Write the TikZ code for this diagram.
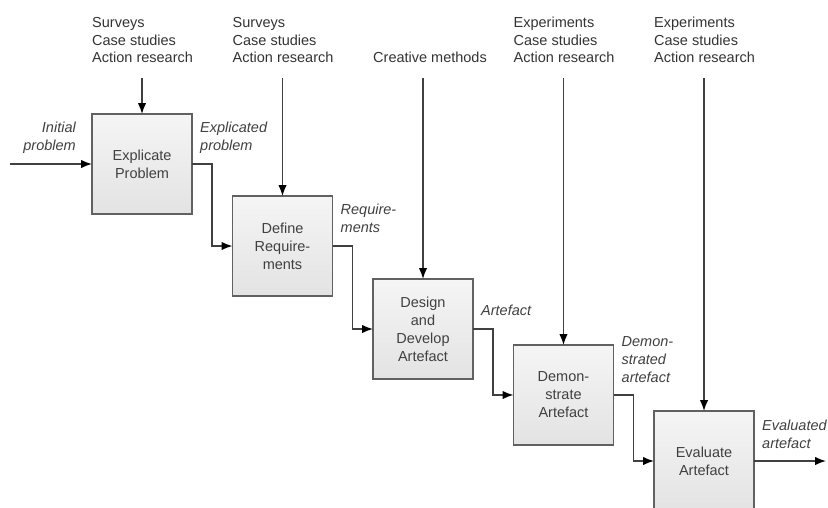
\documentclass[tikz,border=0pt]{standalone}
\usepackage{fontspec}
\setmainfont{Liberation Sans}
\usetikzlibrary{arrows.meta, positioning}

\begin{document}
\begin{tikzpicture}[x=1pt,y=-1pt,>={Latex[length=11pt,width=8.5pt,color=black]},
  font=\fontsize{14.5}{18}\selectfont,
  step node/.style={rectangle,draw=black!62,line width=1.6pt,top color=black!4,bottom color=black!11,
    minimum size=100pt,inner sep=2pt,outer sep=0pt,align=center,text=black!75},
  method node/.style={anchor=south west,inner sep=0pt,align=left,text=black!80,
    font=\fontsize{14.5}{17.5}\selectfont},
  label node/.style={inner sep=0pt,text depth=0pt,text=black!75,
    font=\fontsize{14.5}{18}\selectfont\itshape},
  flow/.style={->,draw=black!75,line width=1.5pt}]
  \useasboundingbox (0,0) rectangle (828,507);
  \clip (0,0) rectangle (828,507);
  \coordinate (top) at (0,78);

  % steps
  \node[step node] (1) at (142,164) {Explicate\\Problem};
  \node[step node] (2) [below right=-18pt and 40.5pt of 1] {Define\\Require-\\ments};
  \node[step node] (3) [below right=-17pt and 40.5pt of 2] {Design\\and\\Develop\\Artefact};
  \node[step node] (4) [below right=-34pt and 40.5pt of 3] {Demon-\\strate\\Artefact};
  \node[step node] (5) [below right=-34pt and 40.5pt of 4] {Evaluate\\Artefact};

  % methods
  \node[method node] (m1) at ([yshift=15pt]top -| 1.west) {Surveys\\Case studies\\Action research};
  \node[method node] (m2) at ([yshift=15pt]top -| 2.west) {Surveys\\Case studies\\Action research};
  \node[method node] (m3) at ([yshift=15pt]top -| 3.west) {Creative methods};
  \node[method node] (m4) at ([yshift=15pt]top -| 4.west) {Experiments\\Case studies\\Action research};
  \node[method node] (m5) at ([yshift=15pt]top -| 5.west) {Experiments\\Case studies\\Action research};
  \foreach \n in {1,...,5}
    \draw[flow] (top -| \n.north) -- (\n.north);

  % flow between steps
  \coordinate[left=82pt of 1.west] (in);
  \coordinate[right=72pt of 5.east] (out);
  \draw[flow] (in) -- (1.west);
  \foreach \a/\b in {1/2,2/3,3/4,4/5}
    \draw[flow] (\a.east) -- ++(20,0) |- (\b.west);
  \draw[flow] (5.east) -- (out);

  % flow labels
  \node[label node, align=right] (l0) [above left=13pt and 16pt of 1.west] {Initial\\problem};
  \node[label node, align=left] (l1) [above right=13pt and 8pt of 1.east] {Explicated\\problem};
  \node[label node, align=left] (l2) [above right=13pt and 8pt of 2.east] {Require-\\ments};
  \node[label node, align=left] (l3) [above right=13pt and 8pt of 3.east] {Artefact};
  \node[label node, align=left] (l4) [above right=12pt and 8pt of 4.east] {Demon-\\strated\\artefact};
  \node[label node, align=left] (l5) [above right=12pt and 8pt of 5.east] {Evaluated\\artefact};
\end{tikzpicture}
\end{document}
